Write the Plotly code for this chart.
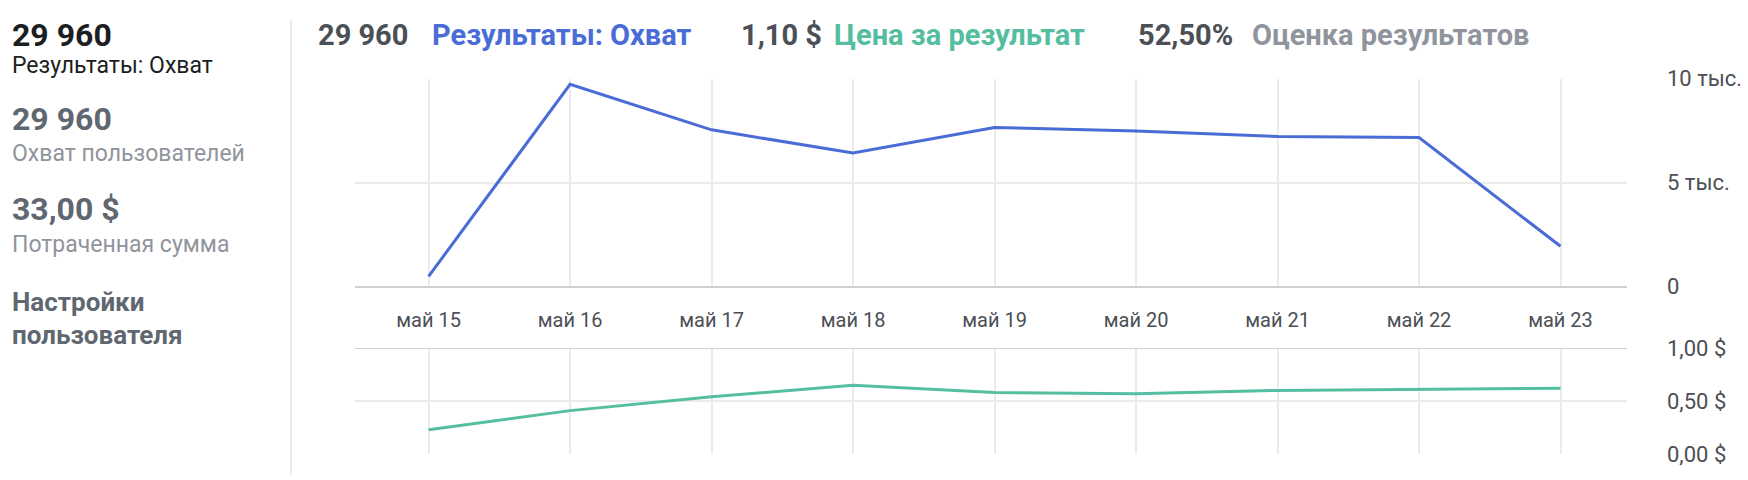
import plotly.graph_objects as go

days = ["май 15", "май 16", "май 17", "май 18", "май 19", "май 20", "май 21", "май 22", "май 23"]
reach = [480, 9730, 7540, 6420, 7650, 7490, 7220, 7170, 1930]
cost = [0.23, 0.41, 0.54, 0.65, 0.58, 0.57, 0.60, 0.61, 0.62]
reach_ticks = [0, 5000, 10000]
reach_labels = ["0", "5 тыс.", "10 тыс."]
cost_ticks = [0, 0.5, 1.0]
cost_labels = ["0,00 $", "0,50 $", "1,00 $"]

BLUE = "#4a6cd6"
GREEN = "#55bea0"
DARK = "#4b4f56"
GRAY = "#90949c"
FONT = "Roboto"
W, H = 1748, 480

x = list(range(len(days)))

fig = go.Figure()
fig.add_trace(go.Scatter(x=x, y=reach, mode="lines", line=dict(color=BLUE, width=3),
                         xaxis="x", yaxis="y", showlegend=False))
fig.add_trace(go.Scatter(x=x, y=cost, mode="lines", line=dict(color=GREEN, width=3),
                         xaxis="x2", yaxis="y2", showlegend=False))

xdom = [347 / W, 1619 / W]
xr = [-0.52, 8.47]
common_x = dict(range=xr, domain=xdom, showgrid=True, gridcolor="#ebebeb", gridwidth=1.5,
                zeroline=False, fixedrange=True)

fig.update_layout(
    width=W, height=H, margin=dict(l=0, r=0, t=0, b=0),
    paper_bgcolor="white", plot_bgcolor="white",
    font=dict(family=FONT, color=DARK, size=20),
    xaxis=dict(**common_x, anchor="y", tickvals=x, ticktext=days,
               showline=True, linecolor="#d0d0d0", linewidth=2,
               ticks="", ticklabelstandoff=15),
    yaxis=dict(domain=[1 - 281 / H, 1 - 62 / H], range=[0, 10000], side="right",
               anchor="x", tickvals=reach_ticks, ticktext=reach_labels,
               showgrid=True, gridcolor="#ebebeb", gridwidth=1.5, zeroline=False,
               ticklabelstandoff=39, tickfont=dict(size=22)),
    xaxis2=dict(**common_x, anchor="y2", showticklabels=False, tickvals=x,
                showline=False),
    yaxis2=dict(domain=[1 - 458 / H, 1 - 346 / H], range=[0, 1], side="right",
                anchor="x2", tickvals=cost_ticks, ticktext=cost_labels,
                showgrid=True, gridcolor="#ebebeb", gridwidth=1.5, zeroline=False,
                ticklabelstandoff=39, tickfont=dict(size=22)),
)

# top border of the lower chart
fig.add_shape(type="line", xref="paper", yref="y2", x0=xdom[0], x1=xdom[1], y0=1, y1=1,
              line=dict(color="#d0d0d0", width=2))
# left panel divider
fig.add_shape(type="line", xref="paper", yref="paper", x0=283 / W, x1=283 / W, y0=0, y1=1,
              line=dict(color="#e5e5e5", width=1.5))


def label(text, px, py, size, color, bold=False):
    if bold:
        text = "<b>" + text + "</b>"
    fig.add_annotation(text=text, x=px / W, y=1 - py / H, xref="paper", yref="paper",
                       xanchor="left", yanchor="middle", showarrow=False,
                       font=dict(family=FONT, size=size, color=color))


# left panel
label("29 960", 2, 16, 32, "#1c1e21", True)
label("Результаты: Охват", 2, 48, 23, "#1c1e21")
label("29 960", 2, 104, 32, "#606770", True)
label("Охват пользователей", 2, 141, 23, GRAY)
label("33,00 $", 2, 199, 32, "#606770", True)
label("Потраченная сумма", 2, 237, 23, GRAY)
label("Настройки", 2, 297, 26, "#606770", True)
label("пользователя", 2, 332, 26, "#606770", True)

# header
label("29 960", 308, 16, 29, DARK, True)
label("Результаты: Охват", 422, 16, 29, BLUE, True)
label("1,10 $", 731, 16, 29, DARK, True)
label("Цена за результат", 824, 16, 29, GREEN, True)
label("52,50%", 1128, 16, 29, DARK, True)
label("Оценка результатов", 1242, 16, 29, GRAY, True)

fig.write_html("out.html")
